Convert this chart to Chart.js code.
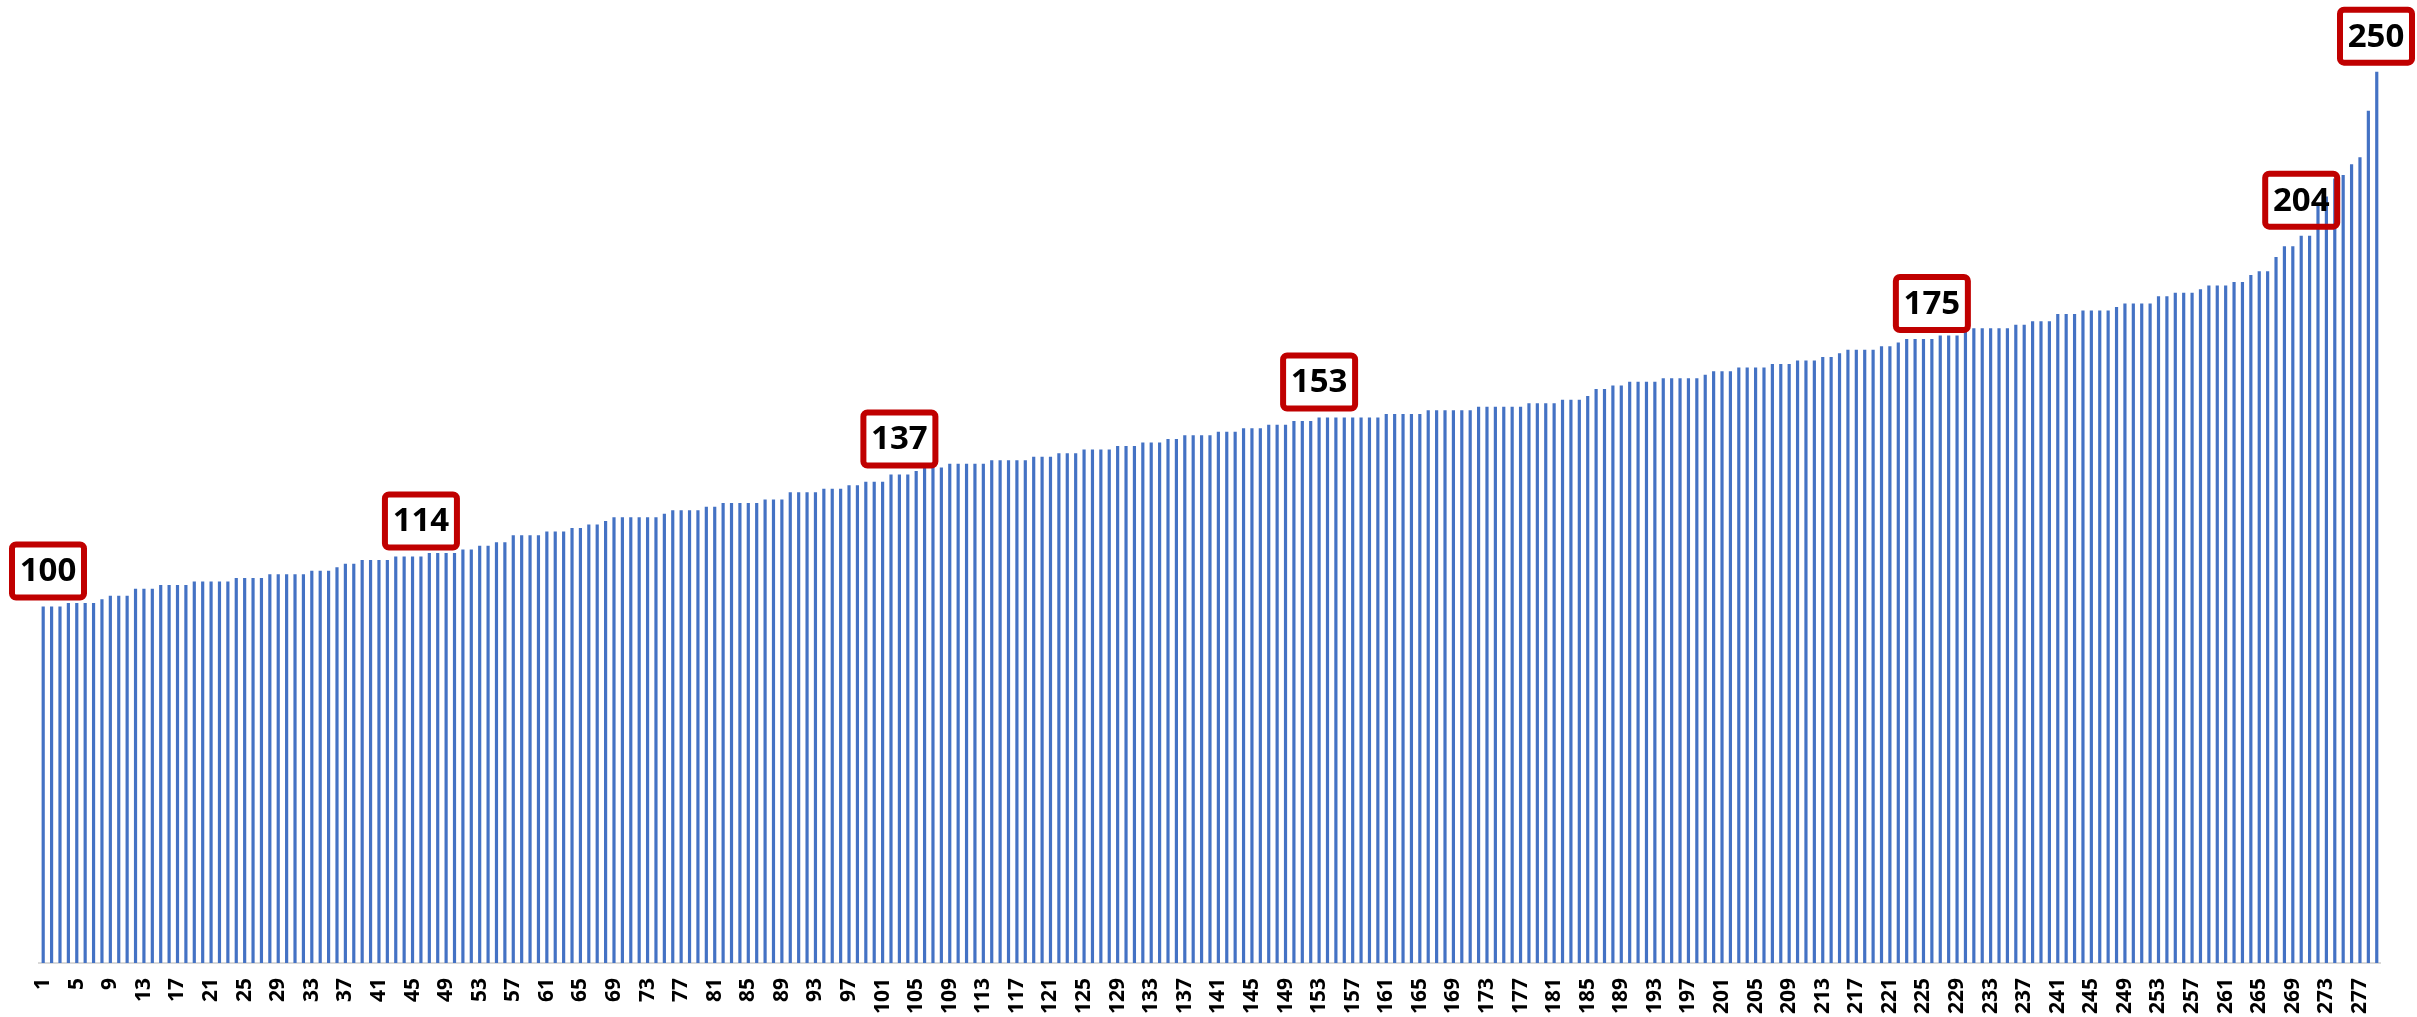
<!DOCTYPE html>
<html>
<head>
<meta charset="utf-8">
<script src="https://cdn.jsdelivr.net/npm/chart.js@4/dist/chart.umd.min.js"></script>
<style>
  html, body { margin: 0; padding: 0; background: #ffffff; }
  #wrap { width: 2417px; height: 1017px; position: relative; }
</style>
</head>
<body>
<div id="wrap"><canvas id="c" width="2417" height="1017"></canvas></div>
<script>
// ---- data ----
const values = [
  100,100,100,101,101,101,101,102,103,103,
  103,105,105,105,106,106,106,106,107,107,
  107,107,107,108,108,108,108,109,109,109,
  109,109,110,110,110,111,112,112,113,113,
  113,113,114,114,114,114,115,115,115,115,
  116,116,117,117,118,118,120,120,120,120,
  121,121,121,122,122,123,123,124,125,125,
  125,125,125,125,126,127,127,127,127,128,
  128,129,129,129,129,129,130,130,130,132,
  132,132,132,133,133,133,134,134,135,135,
  135,137,137,137,138,139,139,139,140,140,
  140,140,140,141,141,141,141,141,142,142,
  142,143,143,143,144,144,144,144,145,145,
  145,146,146,146,147,147,148,148,148,148,
  149,149,149,150,150,150,151,151,151,152,
  152,152,153,153,153,153,153,153,153,153,
  154,154,154,154,154,155,155,155,155,155,
  155,156,156,156,156,156,156,157,157,157,
  157,158,158,158,159,161,161,162,162,163,
  163,163,163,164,164,164,164,164,165,166,
  166,166,167,167,167,167,168,168,168,169,
  169,169,170,170,171,172,172,172,172,173,
  173,174,175,175,175,175,176,176,176,177,
  178,178,178,178,178,179,179,180,180,180,
  182,182,182,183,183,183,183,184,185,185,
  185,185,187,187,188,188,188,189,190,190,
  190,191,191,193,194,194,198,201,201,204,
  204,213,215,220,221,224,226,239,250
];
const categories = values.map((v, i) => String(i + 1));
const tickEvery = 4;
const highlighted = ["1", "46", "103", "153", "226", "270", "279"];

// ---- annotation boxes plugin ----
const boxPlugin = {
  id: 'boxLabels',
  afterDatasetsDraw(chart) {
    const ctx = chart.ctx;
    const xs = chart.scales.x, ys = chart.scales.y;
    const boxW = 72, boxH = 53, lw = 6, gap = 6;
    ctx.save();
    highlighted.forEach(cat => {
      const i = categories.indexOf(cat);
      const v = values[i];
      const cx = xs.getPixelForValue(i);
      const top = ys.getPixelForValue(v);
      let left = cx - boxW / 2;
      const minL = 9 + lw / 2, maxR = 2415 - lw / 2;
      if (left < minL) left = minL;
      if (left + boxW > maxR) left = maxR - boxW;
      const bottom = top - gap - lw / 2;
      const y0 = bottom - boxH;
      ctx.beginPath();
      ctx.roundRect(left, y0, boxW, boxH, 4);
      ctx.lineWidth = lw;
      ctx.strokeStyle = '#C00000';
      ctx.stroke();
      ctx.fillStyle = '#000000';
      ctx.font = '700 33px "Open Sans"';
      ctx.textAlign = 'center';
      ctx.textBaseline = 'middle';
      ctx.fillText(String(v), left + boxW / 2, y0 + boxH / 2 + 1);
    });
    ctx.restore();
  }
};

new Chart(document.getElementById('c'), {
  type: 'bar',
  data: {
    labels: categories,
    datasets: [{
      data: values,
      backgroundColor: '#4472C4',
      borderWidth: 0,
      barPercentage: 0.38,
      categoryPercentage: 1.0
    }]
  },
  options: {
    responsive: false,
    animation: false,
    devicePixelRatio: 1,
    layout: { padding: { left: 39, right: 25, top: 36, bottom: 0 } },
    plugins: { legend: { display: false }, tooltip: { enabled: false } },
    scales: {
      x: {
        grid: { display: false, drawTicks: false },
        border: { display: true, color: '#D9D9D9', width: 2 },
        afterFit(scale) { scale.height = 54; },
        ticks: {
          autoSkip: false,
          minRotation: 90,
          maxRotation: 90,
          padding: 15,
          color: '#000000',
          font: { family: '"Open Sans"', weight: '700', size: 21 },
          callback(val, idx) { return idx % tickEvery === 0 ? categories[idx] : ''; }
        }
      },
      y: {
        display: false,
        min: 0,
        max: 260
      }
    }
  },
  plugins: [boxPlugin]
});
</script>
</body>
</html>
